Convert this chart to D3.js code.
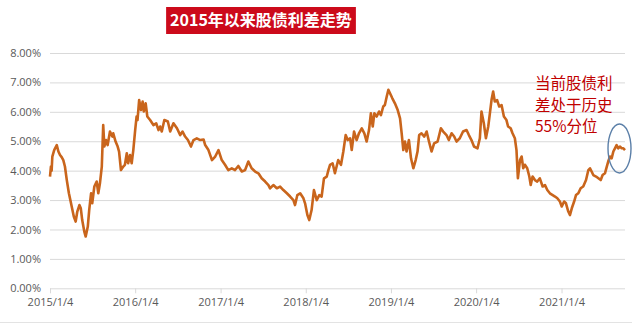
<!DOCTYPE html>
<html>
<head>
<meta charset="utf-8">
<script src="https://cdn.jsdelivr.net/npm/d3@7"></script>
<style>
  body { margin: 0; background: #fff; }
  svg { display: block; }
</style>
</head>
<body>
<svg id="svg" width="640" height="324"></svg>
<script>
// 股债利差 (%)
const dates = [
  '2015-01-04','2015-01-08','2015-01-11','2015-01-14','2015-01-22','2015-02-02','2015-02-09','2015-02-16','2015-02-23','2015-03-02',
  '2015-03-09','2015-03-17','2015-03-26','2015-04-07','2015-04-16','2015-04-24','2015-05-01','2015-05-10','2015-05-16','2015-05-22',
  '2015-05-31','2015-06-06','2015-06-15','2015-06-21','2015-06-29','2015-07-04','2015-07-13','2015-07-23','2015-07-30','2015-08-06',
  '2015-08-14','2015-08-20','2015-08-25','2015-09-01','2015-09-08','2015-09-18','2015-09-28','2015-10-02','2015-10-12','2015-10-21',
  '2015-10-27','2015-11-04','2015-11-14','2015-11-21','2015-11-29','2015-12-05','2015-12-13','2015-12-20','2015-12-27',
  '2016-01-04','2016-01-10','2016-01-14','2016-01-21','2016-01-29','2016-02-05','2016-02-10','2016-02-18','2016-02-25','2016-03-08',
  '2016-03-22','2016-04-03','2016-04-13','2016-04-20','2016-04-27','2016-05-08','2016-05-23','2016-06-02','2016-06-16','2016-07-01',
  '2016-07-15','2016-07-25','2016-08-05','2016-08-17','2016-08-30','2016-09-10','2016-09-24','2016-10-09','2016-10-23','2016-10-30',
  '2016-11-13','2016-11-28','2016-12-12','2016-12-26',
  '2017-01-09','2017-01-23','2017-02-06','2017-02-21','2017-03-07','2017-03-21','2017-04-05','2017-04-19','2017-05-03','2017-05-17',
  '2017-06-01','2017-06-15','2017-06-29','2017-07-14','2017-07-28','2017-08-04','2017-08-18','2017-09-02','2017-09-16','2017-09-30',
  '2017-10-15','2017-10-29','2017-11-12','2017-11-19','2017-11-29','2017-12-11','2017-12-25',
  '2018-01-01','2018-01-11','2018-01-19','2018-01-29','2018-02-08','2018-02-20','2018-03-03','2018-03-13','2018-03-23','2018-04-04',
  '2018-04-11','2018-04-18','2018-04-29','2018-05-09','2018-05-23','2018-06-04','2018-06-14','2018-06-24','2018-07-03','2018-07-13',
  '2018-07-20','2018-07-30','2018-08-10','2018-08-20','2018-09-01','2018-09-12','2018-09-22','2018-10-02','2018-10-10','2018-10-18',
  '2018-10-25','2018-11-04','2018-11-14','2018-11-22','2018-12-02','2018-12-09','2018-12-17','2018-12-24','2018-12-31',
  '2019-01-10','2019-01-21','2019-02-02','2019-02-12','2019-02-19','2019-02-26','2019-03-05','2019-03-12','2019-03-22','2019-03-31',
  '2019-04-10','2019-04-20','2019-04-28','2019-05-05','2019-05-15','2019-05-27','2019-06-06','2019-06-16','2019-06-27','2019-07-08',
  '2019-07-23','2019-08-06','2019-08-16','2019-08-30','2019-09-09','2019-09-21','2019-10-02','2019-10-12','2019-10-26','2019-11-09',
  '2019-11-24','2019-12-04','2019-12-15','2019-12-26',
  '2020-01-10','2020-01-20','2020-01-27','2020-02-06','2020-02-15','2020-02-25','2020-03-03','2020-03-10','2020-03-17','2020-03-24',
  '2020-04-03','2020-04-12','2020-04-22','2020-05-02','2020-05-13','2020-05-20','2020-05-31','2020-06-08','2020-06-18','2020-06-25',
  '2020-07-01','2020-07-10','2020-07-17','2020-07-24','2020-07-31','2020-08-10','2020-08-19','2020-08-25','2020-09-02','2020-09-12',
  '2020-09-22','2020-10-03','2020-10-15','2020-10-25','2020-11-04','2020-11-15','2020-11-27','2020-12-07','2020-12-17','2020-12-28',
  '2021-01-05','2021-01-15','2021-01-23','2021-02-02','2021-02-09','2021-02-17','2021-02-27','2021-03-07','2021-03-17','2021-03-27',
  '2021-04-07','2021-04-19','2021-04-29','2021-05-06','2021-05-13','2021-05-20','2021-06-01','2021-06-11','2021-06-21','2021-06-29',
  '2021-07-09','2021-07-17','2021-07-23','2021-07-31','2021-08-07','2021-08-14','2021-08-21','2021-08-28','2021-09-04','2021-09-12',
  '2021-09-19','2021-09-26','2021-10-03'
];
const spread = [
  3.80,4.14,4.00,4.48,4.70,4.87,4.65,4.53,4.46,4.36,
  4.14,3.68,3.23,2.78,2.44,2.27,2.61,2.83,2.72,2.32,
  1.93,1.76,2.10,2.66,3.23,2.89,3.46,3.63,3.23,3.57,
  4.14,5.55,4.82,5.04,4.87,5.33,5.16,5.27,4.99,4.82,
  4.65,4.02,4.14,4.20,4.59,4.25,4.53,4.25,4.70,
  5.38,5.84,5.72,6.40,6.06,6.35,6.01,6.29,5.84,5.72,
  5.55,5.61,5.38,5.50,5.33,5.72,5.67,5.33,5.61,5.44,
  5.21,5.33,5.16,5.04,4.82,5.04,5.10,5.04,5.06,4.87,
  4.70,4.36,4.48,4.70,
  4.36,4.20,4.02,4.08,4.02,4.16,3.97,4.02,4.31,4.08,
  3.97,3.91,3.74,3.63,3.51,3.40,3.51,3.40,3.46,3.34,
  3.23,3.12,3.00,2.83,3.17,3.23,3.06,
  2.89,2.49,2.32,2.66,3.34,3.00,3.17,3.12,3.74,3.80,
  4.02,4.20,4.25,3.91,4.36,4.20,4.65,5.21,5.04,5.10,
  4.70,5.33,5.04,5.27,5.44,5.27,4.99,5.38,5.95,5.50,
  5.95,5.84,6.01,5.89,6.18,6.23,6.52,6.75,6.63,
  6.46,6.29,6.06,5.78,5.27,4.70,4.99,4.65,5.04,4.42,
  4.08,4.36,4.65,5.21,5.27,5.16,5.33,4.99,4.65,4.93,
  4.99,5.44,5.33,5.21,5.04,5.27,5.16,4.99,5.10,5.33,
  5.38,5.21,5.04,4.82,
  4.76,5.10,6.01,5.61,5.10,5.50,5.95,6.40,6.69,6.35,
  6.40,6.18,6.23,5.84,5.72,5.50,5.44,5.27,5.10,4.70,
  3.74,4.36,4.48,4.08,4.20,4.08,3.80,3.51,3.80,3.68,
  3.63,3.74,3.46,3.51,3.34,3.23,3.17,3.12,3.06,2.95,
  2.78,2.95,2.89,2.61,2.49,2.72,2.95,3.17,3.23,3.40,
  3.46,3.68,4.02,4.08,3.97,3.85,3.80,3.74,3.68,3.85,
  3.91,4.14,4.31,4.48,4.42,4.65,4.76,4.87,4.76,4.82,
  4.76,4.76,4.70
];
const yTicks = [0, 1, 2, 3, 4, 5, 6, 7, 8];
const xTicks = ['2015-01-04','2016-01-04','2017-01-04','2018-01-04','2019-01-04','2020-01-04','2021-01-04'];
const xEnd = '2021-10-03';
const title = '2015年以来股债利差走势';
const note = ['当前股债利', '差处于历史', '55%分位'];

const parse = d3.timeParse('%Y-%m-%d');
const data = dates.map((d, i) => ({ date: parse(d), value: spread[i] }));

const svg = d3.select('#svg');
const fontAxis = '"Open Sans", "Noto Sans", sans-serif';
const cjk = '"Noto Sans CJK SC", sans-serif';

const xScale = d3.scaleTime()
  .domain([parse(xTicks[0]), parse(xEnd)])
  .range([50, 625]);

const yScale = d3.scaleLinear()
  .domain([0, 8])
  .range([288.3, 53]);

// gridlines + y labels
const yAxis = d3.axisLeft(yScale)
  .tickValues(yTicks)
  .tickSize(-(625 - 50))
  .tickPadding(9)
  .tickFormat(d => d.toFixed(2) + '%');

const yAxisG = svg.append('g')
  .attr('class', 'axis y-axis')
  .attr('transform', 'translate(50,0)')
  .call(yAxis);
yAxisG.select('path.domain').remove();
yAxisG.selectAll('line').attr('stroke', '#d9d9d9').attr('stroke-width', 1);
yAxisG.selectAll('text')
  .attr('fill', '#595959')
  .style('font-family', fontAxis)
  .style('font-size', '11px');

// x axis
const xAxis = d3.axisBottom(xScale)
  .tickValues(xTicks.map(parse))
  .tickSize(5)
  .tickPadding(5)
  .tickFormat(d3.timeFormat('%Y/%-m/%-d'));

const xAxisG = svg.append('g')
  .attr('class', 'axis x-axis')
  .attr('transform', `translate(0,${yScale(0)})`)
  .call(xAxis);
xAxisG.select('path.domain').remove();
xAxisG.selectAll('line').attr('stroke', '#d9d9d9');
xAxisG.selectAll('text')
  .attr('fill', '#595959')
  .style('font-family', fontAxis)
  .style('font-size', '11px');

// series
const line = d3.line()
  .x(d => xScale(d.date))
  .y(d => yScale(d.value));

svg.append('path')
  .datum(data)
  .attr('d', line)
  .attr('fill', 'none')
  .attr('stroke', '#c9651c')
  .attr('stroke-width', 2.6)
  .attr('stroke-linejoin', 'round');

// bottom frame line
svg.append('line')
  .attr('x1', 0).attr('x2', 632)
  .attr('y1', 322.5).attr('y2', 322.5)
  .attr('stroke', '#e3e3e3');

// title box
const titleG = svg.append('g');
const titleText = titleG.append('text')
  .attr('x', 261)
  .attr('y', 26)
  .attr('text-anchor', 'middle')
  .attr('fill', '#fff')
  .style('font-family', cjk)
  .style('font-weight', 700)
  .style('font-size', '16px')
  .text(title);
const tb = titleText.node().getBBox();
titleG.insert('rect', 'text')
  .attr('x', tb.x - 4)
  .attr('y', 7)
  .attr('width', tb.width + 8)
  .attr('height', 27)
  .attr('fill', '#cc0a1b');

// annotation
svg.append('g').selectAll('text')
  .data(note)
  .join('text')
  .attr('x', 535)
  .attr('y', (d, i) => 89 + i * 21.7)
  .attr('fill', '#c00000')
  .style('font-family', cjk)
  .style('font-size', '15.5px')
  .text(d => d);

svg.append('ellipse')
  .attr('cx', 619.5)
  .attr('cy', 148.5)
  .attr('rx', 11.5)
  .attr('ry', 24.5)
  .attr('fill', 'none')
  .attr('stroke', '#5b7fa8')
  .attr('stroke-width', 1.4);
</script>
</body>
</html>
